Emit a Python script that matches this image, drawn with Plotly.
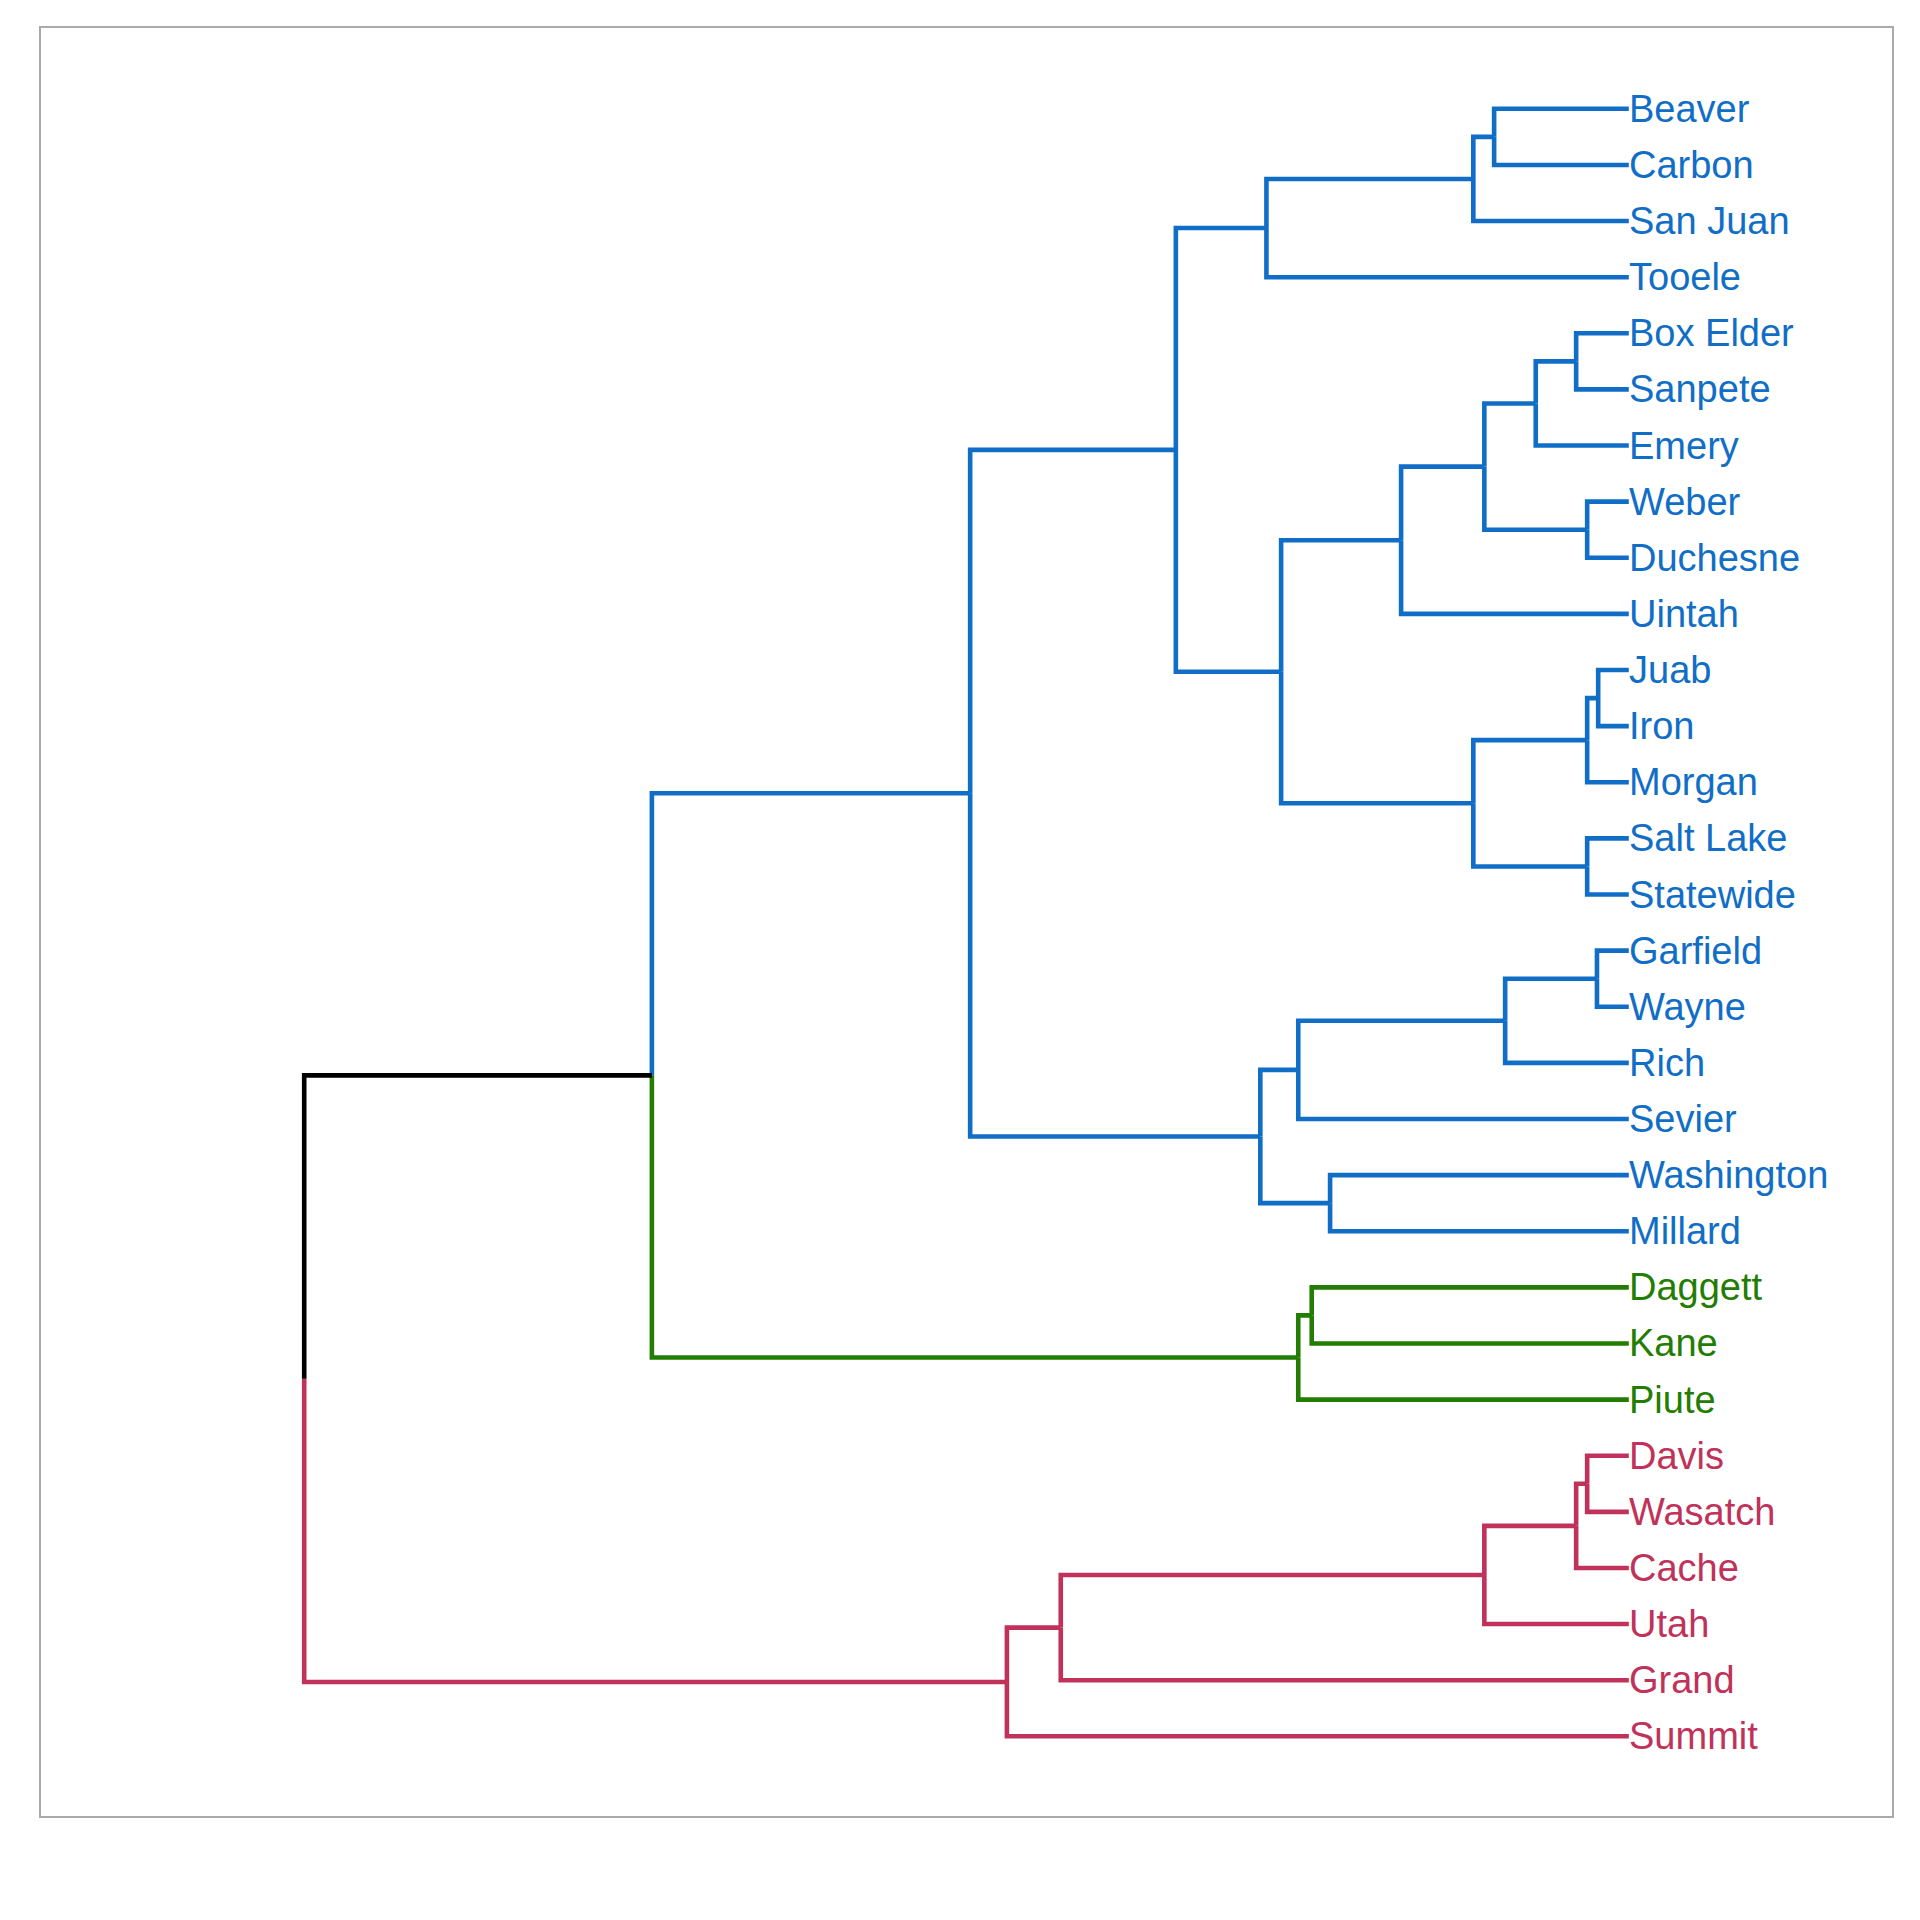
import plotly.graph_objects as go

# ---- data ----
leaf_labels = ["Beaver", "Carbon", "San Juan", "Tooele", "Box Elder", "Sanpete", "Emery",
               "Weber", "Duchesne", "Uintah", "Juab", "Iron", "Morgan", "Salt Lake",
               "Statewide", "Garfield", "Wayne", "Rich", "Sevier", "Washington", "Millard",
               "Daggett", "Kane", "Piute", "Davis", "Wasatch", "Cache", "Utah", "Grand",
               "Summit"]
leaf_groups = ["blue"] * 21 + ["green"] * 3 + ["red"] * 6

# merges: (child a, child b, height); "#k" refers to the k-th merge
merge_a = ["Beaver", "#0", "#1", "Box Elder", "#3", "Weber", "#4", "#6", "Juab", "#8",
           "Salt Lake", "#9", "#7", "#2", "Garfield", "#14", "#15", "Washington", "#16",
           "#13", "Daggett", "#20", "#19", "Davis", "#23", "#24", "#25", "#26", "#22"]
merge_b = ["Carbon", "San Juan", "Tooele", "Sanpete", "Emery", "Duchesne", "#5", "Uintah",
           "Iron", "Morgan", "Statewide", "#10", "#11", "#12", "Wayne", "Rich", "Sevier",
           "Millard", "#17", "#18", "Kane", "Piute", "#21", "Wasatch", "Cache", "Utah",
           "Grand", "Summit", "#27"]
merge_height = [1.10, 1.27, 2.96, 0.43, 0.76, 0.34, 1.18, 1.86, 0.25, 0.34,
                0.34, 1.27, 2.84, 3.70, 0.26, 1.01, 2.70, 2.44, 3.01,
                5.38, 2.59, 2.70, 7.98, 0.34, 0.43, 1.18, 4.64, 5.08, 10.82]

group_colors = {"blue": "rgb(17,110,198)", "green": "rgb(34,125,2)",
                "red": "rgb(192,50,90)", "mixed": "rgb(0,0,0)"}

# ---- layout of tree ----
n = len(leaf_labels)
node_y, node_h, node_g = {}, {}, {}
for i, lab in enumerate(leaf_labels):
    node_y[lab] = 5 + 10 * (n - 1 - i)
    node_h[lab] = 0.0
    node_g[lab] = leaf_groups[i]

segs = {k: ([], []) for k in group_colors}
for k, (a, b, h) in enumerate(zip(merge_a, merge_b, merge_height)):
    key = "#%d" % k
    mid = (node_y[a] + node_y[b]) / 2
    for c in (a, b):
        xs, ys = segs[node_g[c]]
        xs += [-node_h[c], -h, -h, None]
        ys += [node_y[c], node_y[c], mid, None]
    node_y[key] = mid
    node_h[key] = h
    node_g[key] = node_g[a] if node_g[a] == node_g[b] else "mixed"

fig = go.Figure()
for g, (xs, ys) in segs.items():
    fig.add_trace(go.Scatter(x=xs, y=ys, mode="lines",
                             line=dict(color=group_colors[g], width=4.6),
                             hoverinfo="skip", showlegend=False))

for i, lab in enumerate(leaf_labels):
    fig.add_annotation(x=0, y=node_y[lab], text=lab, showarrow=False,
                       xanchor="left", yanchor="middle", xshift=-2,
                       font=dict(family="Liberation Sans, Arial, sans-serif", size=38,
                                 color=group_colors[leaf_groups[i]]))

axis_common = dict(showgrid=False, zeroline=False, showticklabels=False, ticks="",
                   showline=True, mirror=True, linecolor="#aaaaaa", linewidth=2)
fig.update_layout(
    width=1920, height=1920,
    margin=dict(l=33, r=36, t=20, b=112),
    paper_bgcolor="white", plot_bgcolor="white",
    xaxis=dict(range=[-12.97, 2.15], **axis_common),
    yaxis=dict(range=[-9.2, 309.4], **axis_common),
)
fig.write_html("out.html")
